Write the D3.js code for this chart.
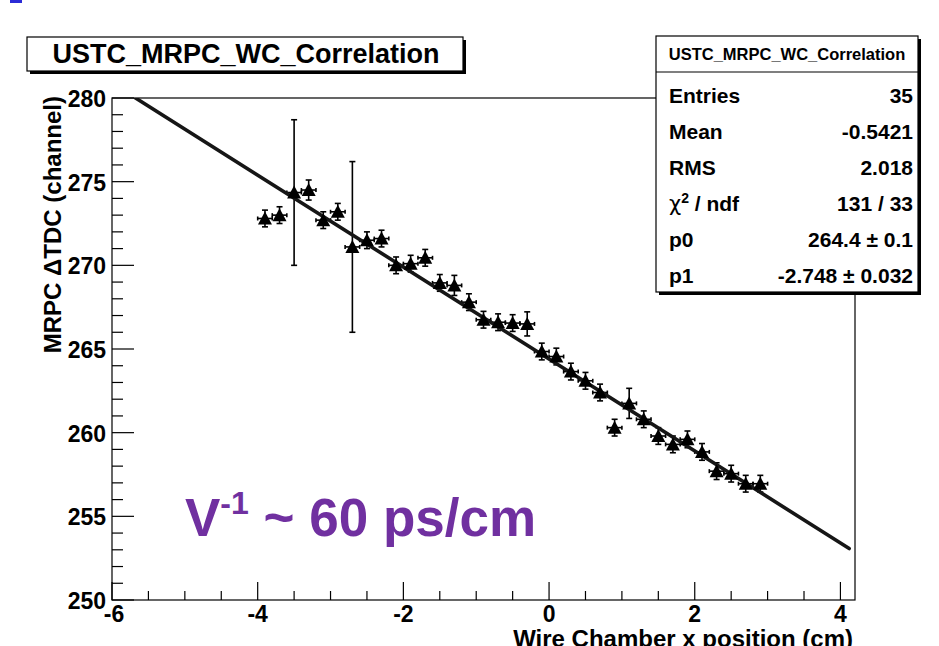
<!DOCTYPE html>
<html>
<head>
<meta charset="utf-8">
<script src="https://cdn.jsdelivr.net/npm/d3@7"></script>
<style>
  html, body { margin: 0; padding: 0; background: #fff; }
  svg { display: block; }
  text { font-family: "Liberation Sans", Arial, Helvetica, sans-serif; font-weight: bold; }
</style>
</head>
<body>
<div id="chart"></div>
<script>
// ---- data ----
const xPos = [-3.9, -3.7, -3.5, -3.3, -3.1, -2.9, -2.7, -2.5, -2.3, -2.1,
              -1.9, -1.7, -1.5, -1.3, -1.1, -0.9, -0.7, -0.5, -0.3, -0.1,
               0.1,  0.3,  0.5,  0.7,  0.9,  1.1,  1.3,  1.5,  1.7,  1.9,
               2.1,  2.3,  2.5,  2.7,  2.9];
const tdc  = [272.8, 273.0, 274.35, 274.5, 272.7, 273.2, 271.1, 271.5, 271.6, 270.0,
              270.1, 270.45, 268.95, 268.8, 267.8, 266.75, 266.6, 266.55, 266.5, 264.85,
              264.55, 263.65, 263.1, 262.4, 260.3, 261.75, 260.8, 259.8, 259.3, 259.6,
              258.85, 257.7, 257.55, 256.95, 256.95];
const tdcErr = [0.5, 0.5, 4.35, 0.6, 0.5, 0.5, 5.1, 0.5, 0.5, 0.5,
                0.5, 0.5, 0.5, 0.6, 0.5, 0.5, 0.5, 0.5, 0.72, 0.5,
                0.5, 0.5, 0.5, 0.5, 0.5, 0.9, 0.5, 0.5, 0.5, 0.5,
                0.5, 0.5, 0.5, 0.5, 0.5];
const xErr = [0.1, 0.1, 0.1, 0.1, 0.1, 0.1, 0.1, 0.1, 0.1, 0.1,
              0.1, 0.1, 0.1, 0.1, 0.1, 0.1, 0.1, 0.1, 0.1, 0.1,
              0.1, 0.1, 0.1, 0.1, 0.1, 0.1, 0.1, 0.1, 0.1, 0.1,
              0.1, 0.1, 0.1, 0.1, 0.1];
const fitP0 = 264.4, fitP1 = -2.748;
const xTicks = [-6, -4, -2, 0, 2, 4];
const yTicks = [250, 255, 260, 265, 270, 275, 280];
const statsLabels = ["Entries", "Mean", "RMS", "chi2", "p0", "p1"];
const statsValues = ["35", "-0.5421", "2.018", "131 / 33", "264.4 \u00b1 0.1", "-2.748 \u00b1 0.032"];
const histTitle = "USTC_MRPC_WC_Correlation";
const xTitle = "Wire Chamber x position (cm)";
const yTitle = "MRPC \u0394TDC (channel)";

// ---- layout ----
const W = 939, H = 646;
const frame = {left: 112, top: 98, right: 855, bottom: 600};
const svg = d3.select("#chart").append("svg").attr("width", W).attr("height", H);
svg.append("rect").attr("width", W).attr("height", H).attr("fill", "#fff");

// small blue mark at the top-left (slide decoration)
svg.append("rect").attr("x", 10).attr("y", 0).attr("width", 12).attr("height", 3).attr("fill", "#2b2bd6");

const x = d3.scaleLinear().domain([-6, 4.2]).range([frame.left, frame.right]);
const y = d3.scaleLinear().domain([250, 280]).range([frame.bottom, frame.top]);

// frame
svg.append("rect").attr("x", frame.left).attr("y", frame.top)
  .attr("width", frame.right - frame.left).attr("height", frame.bottom - frame.top)
  .attr("fill", "none").attr("stroke", "#000").attr("stroke-width", 1.2);

// axis ticks (ROOT style, inside)
const gx = svg.append("g");
d3.range(-6, 4.2001, 0.5).forEach(v => {
  const major = Math.abs(v / 2 - Math.round(v / 2)) < 1e-6;
  gx.append("line").attr("x1", x(v)).attr("x2", x(v))
    .attr("y1", frame.bottom).attr("y2", frame.bottom - (major ? 18 : 9))
    .attr("stroke", "#000").attr("stroke-width", 1.2);
});
xTicks.forEach(v => {
  gx.append("text").attr("x", x(v) + (v === -6 ? 2 : 0)).attr("y", frame.bottom + 22)
    .attr("text-anchor", "middle").attr("font-size", 23).text(v);
});
const gy = svg.append("g");
d3.range(250, 280.001, 1).forEach(v => {
  const major = v % 5 === 0;
  gy.append("line").attr("y1", y(v)).attr("y2", y(v))
    .attr("x1", frame.left).attr("x2", frame.left + (major ? 22 : 11))
    .attr("stroke", "#000").attr("stroke-width", 1.2);
});
yTicks.forEach(v => {
  gy.append("text").attr("x", frame.left - 6).attr("y", y(v) + 9)
    .attr("text-anchor", "end").attr("font-size", 23).text(v);
});

// axis titles
svg.append("text").attr("x", frame.right - 2).attr("y", 647)
  .attr("text-anchor", "end").attr("font-size", 24).text(xTitle);
svg.append("text").attr("transform", `translate(61,${frame.top - 2}) rotate(-90)`)
  .attr("text-anchor", "end").attr("font-size", 24).text(yTitle);

// clip
svg.append("clipPath").attr("id", "clip").append("rect")
  .attr("x", frame.left).attr("y", frame.top)
  .attr("width", frame.right - frame.left).attr("height", frame.bottom - frame.top);
const plot = svg.append("g").attr("clip-path", "url(#clip)");

// error bars
const pts = xPos.map((v, i) => ({x: v, y: tdc[i], ey: tdcErr[i], ex: xErr[i]}));
const eb = plot.append("g").attr("stroke", "#000").attr("stroke-width", 1.6);
pts.forEach(d => {
  const cx = x(d.x), cy = y(d.y);
  const y1 = y(d.y + d.ey), y2 = y(d.y - d.ey);
  const x1 = x(d.x - d.ex), x2 = x(d.x + d.ex);
  eb.append("line").attr("x1", cx).attr("x2", cx).attr("y1", y1).attr("y2", y2);
  eb.append("line").attr("x1", cx - 3).attr("x2", cx + 3).attr("y1", y1).attr("y2", y1);
  eb.append("line").attr("x1", cx - 3).attr("x2", cx + 3).attr("y1", y2).attr("y2", y2);
  eb.append("line").attr("x1", x1).attr("x2", x2).attr("y1", cy).attr("y2", cy);
  eb.append("line").attr("x1", x1).attr("x2", x1).attr("y1", cy - 2).attr("y2", cy + 2);
  eb.append("line").attr("x1", x2).attr("x2", x2).attr("y1", cy - 2).attr("y2", cy + 2);
});

// fit line
const xStart = (280 - fitP0) / fitP1, xEnd = 4.12;
plot.append("line")
  .attr("x1", x(xStart)).attr("y1", y(fitP0 + fitP1 * xStart))
  .attr("x2", x(xEnd)).attr("y2", y(fitP0 + fitP1 * xEnd))
  .attr("stroke", "#161616").attr("stroke-width", 3.6).attr("stroke-linecap", "round");

// triangle markers
plot.append("g").selectAll("path").data(pts).join("path")
  .attr("d", d => {
    const cx = x(d.x), cy = y(d.y);
    return `M${cx},${cy - 7}L${cx + 7},${cy + 6}L${cx - 7},${cy + 6}Z`;
  })
  .attr("fill", "#000");

// title box with shadow
function shadowBox(x0, y0, w, h) {
  svg.append("rect").attr("x", x0 + 3).attr("y", y0 + 3).attr("width", w).attr("height", h).attr("fill", "#000");
  svg.append("rect").attr("x", x0).attr("y", y0).attr("width", w).attr("height", h)
    .attr("fill", "#fff").attr("stroke", "#000").attr("stroke-width", 1.2);
}
shadowBox(27, 37, 436, 34);
svg.append("text").attr("x", 246).attr("y", 63).attr("text-anchor", "middle")
  .attr("font-size", 27).text(histTitle);

// stats box
const sb = {x: 656, y: 36, w: 262, h: 256};
shadowBox(sb.x, sb.y, sb.w, sb.h);
svg.append("line").attr("x1", sb.x).attr("x2", sb.x + sb.w).attr("y1", 72).attr("y2", 72)
  .attr("stroke", "#000").attr("stroke-width", 1.2);
svg.append("text").attr("x", sb.x + sb.w / 2).attr("y", 60).attr("text-anchor", "middle")
  .attr("font-size", 16.5).text(histTitle);
statsLabels.forEach((lab, i) => {
  const by = 103 + i * 36;
  const t = svg.append("text").attr("x", 669).attr("y", by).attr("font-size", 21);
  if (lab === "chi2") {
    t.append("tspan").attr("font-family", "DejaVu Sans").attr("font-weight", "normal").text("\u03c7");
    t.append("tspan").attr("dy", -8).attr("font-size", 14).text("2");
    t.append("tspan").attr("dy", 8).text(" / ndf");
  } else {
    t.text(lab);
  }
  svg.append("text").attr("x", 913).attr("y", by).attr("text-anchor", "end")
    .attr("font-size", 21).text(statsValues[i]);
});

// annotation
const ann = svg.append("text").attr("x", 185).attr("y", 536).attr("font-size", 53).attr("fill", "#7030a0");
ann.append("tspan").text("V");
ann.append("tspan").attr("dy", -22).attr("font-size", 32).text("-1");
ann.append("tspan").attr("dy", 22).text(" ~ 60 ps/cm");
</script>
</body>
</html>
